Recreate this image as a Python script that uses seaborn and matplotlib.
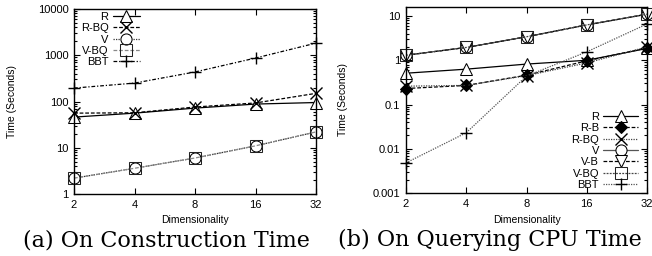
import numpy as np
import pandas as pd
import matplotlib
matplotlib.use("Agg")
import matplotlib.pyplot as plt
import seaborn as sns
from matplotlib.ticker import FixedLocator, FixedFormatter, NullLocator

sns.set_style("ticks")
plt.rcParams['font.family'] = ['Liberation Sans', 'DejaVu Sans']
plt.rcParams['text.color'] = 'black'
plt.rcParams['axes.labelcolor'] = 'black'
plt.rcParams['xtick.color'] = 'black'
plt.rcParams['ytick.color'] = 'black'

dims = [2, 4, 8, 16, 32]
dim_labels = ["2", "4", "8", "16", "32"]

# (a) construction time
a_R = [46, 56, 72, 88, 95]
a_RBQ = [56, 57, 76, 93, 150]
a_V = [2.2, 3.6, 6.0, 11, 22]
a_VBQ = [2.2, 3.6, 6.0, 11, 22]
a_BBT = [195, 250, 435, 870, 1830]

# (b) querying CPU time
b_R = [0.51, 0.63, 0.82, 1.0, 1.85]
b_RB = [0.23, 0.27, 0.46, 0.97, 1.9]
b_RBQ = [0.26, 0.27, 0.45, 0.87, 2.0]
b_V = [1.3, 1.95, 3.4, 6.3, 11]
b_VB = [1.3, 1.95, 3.4, 6.3, 11]
b_VBQ = [1.3, 1.95, 3.4, 6.3, 11]
b_BBT = [0.0048, 0.023, 0.44, 1.55, 6.6]

a_yticks = [1, 10, 100, 1000, 10000]
a_ylabels = ["1", "10", "100", "1000", "10000"]
b_yticks = [0.001, 0.01, 0.1, 1, 10]
b_ylabels = ["0.001", "0.01", "0.1", "1", "10"]

W, H = 652, 256
fig = plt.figure(figsize=(W / 100, H / 100), dpi=100)

def px_axes(l, t, r, b):
    return fig.add_axes([l / W, (H - b) / H, (r - l) / W, (b - t) / H])

axA = px_axes(74, 9, 316, 194)
axB = px_axes(406, 7, 647, 193)

ms = 8
lw = 0.9
styles_a = [
    ("R", a_R, dict(color="black", linestyle="-", marker="^", mfc="white", mec="black")),
    ("R-BQ", a_RBQ, dict(color="black", linestyle=(0, (3, 1.5)), marker="x", mec="black", mew=1.0)),
    ("V", a_V, dict(color="#333333", linestyle=(0, (1, 1)), marker="o", mfc="white", mec="black")),
    ("V-BQ", a_VBQ, dict(color="#888888", linestyle=(0, (3, 1.5)), marker="s", mfc="none", mec="#222222")),
    ("BBT", a_BBT, dict(color="black", linestyle=(0, (3, 1.5, 1, 1.5)), marker="+", mec="black", mew=1.0)),
]
styles_b = [
    ("R", b_R, dict(color="black", linestyle="-", marker="^", mfc="white", mec="black")),
    ("R-B", b_RB, dict(color="black", linestyle=(0, (3, 1.5)), marker="D", mfc="black", mec="black", markersize=6.5)),
    ("R-BQ", b_RBQ, dict(color="#444444", linestyle=(0, (1, 1)), marker="x", mec="black", mew=1.0)),
    ("V", b_V, dict(color="#555555", linestyle="-", marker="o", mfc="white", mec="black")),
    ("V-B", b_VB, dict(color="black", linestyle=(0, (3, 1.5)), marker="v", mfc="white", mec="black")),
    ("V-BQ", b_VBQ, dict(color="#444444", linestyle=(0, (1.5, 1)), marker="s", mfc="none", mec="#222222")),
    ("BBT", b_BBT, dict(color="#555555", linestyle=(0, (1, 1)), marker="+", mec="black", mew=1.0)),
]

for ax, styles in ((axA, styles_a), (axB, styles_b)):
    for name, vals, kw in styles:
        kw = dict(kw)
        kw.setdefault("markersize", ms)
        sns.lineplot(x=dims, y=vals, ax=ax, label=name, linewidth=lw,
                     clip_on=False, **kw)

for ax, yt, yl in ((axA, a_yticks, a_ylabels), (axB, b_yticks, b_ylabels)):
    ax.set_xscale("log", base=2)
    ax.set_yscale("log")
    ax.set_xlim(2, 32)
    ax.xaxis.set_major_locator(FixedLocator(dims))
    ax.xaxis.set_major_formatter(FixedFormatter(dim_labels))
    ax.xaxis.set_minor_locator(NullLocator())
    ax.yaxis.set_major_locator(FixedLocator(yt))
    ax.yaxis.set_major_formatter(FixedFormatter(yl))
    ax.tick_params(which="both", direction="in", top=True, right=True,
                   labelsize=8, width=0.8, color="black", labelcolor="black", pad=4)
    ax.tick_params(which="major", length=4)
    ax.tick_params(which="minor", length=2)
    for s in ax.spines.values():
        s.set_linewidth(1.0)
        s.set_color("black")
    ax.set_xlabel("Dimensionality", fontsize=7.5, color="black")
    ax.set_ylabel("Time (Seconds)", fontsize=7.5, color="black")

axA.set_ylim(1, 10000)
axB.set_ylim(0.001, 16)
axA.yaxis.set_label_coords((17 - 74) / 242, 0.5)
axB.yaxis.set_label_coords((348 - 406) / 241, 0.5)
axA.xaxis.set_label_coords(0.5, (194 - 215) / 185)
axB.xaxis.set_label_coords(0.5, (193 - 215) / 186)

legA = axA.legend(loc="upper left", bbox_to_anchor=(0.0, 1.02), markerfirst=False,
                  frameon=False, fontsize=8, handlelength=2.4, handletextpad=0.4,
                  labelspacing=0.12, borderaxespad=0.2)
legB = axB.legend(loc="lower right", bbox_to_anchor=(0.99, -0.02), markerfirst=False,
                  frameon=False, fontsize=8, handlelength=3.1, handletextpad=0.4,
                  labelspacing=0.12, borderaxespad=0.2)

fig.text(23 / W, 1 - 240 / H, "(a) On Construction Time", fontsize=16,
         family="DejaVu Serif", ha="left", va="center", color="black")
fig.text(338 / W, 1 - 240 / H, "(b) On Querying CPU Time", fontsize=16,
         family="DejaVu Serif", ha="left", va="center", color="black")

fig.savefig("out.png", dpi=100)
